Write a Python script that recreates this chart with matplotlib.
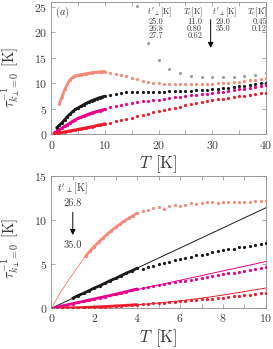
import numpy as np
import matplotlib
matplotlib.use("Agg")
import matplotlib.pyplot as plt
from matplotlib.ticker import MultipleLocator

plt.rcParams['font.family'] = 'serif'
plt.rcParams['font.serif'] = ['cmr10', 'DejaVu Serif']
plt.rcParams['mathtext.fontset'] = 'cm'
plt.rcParams['axes.formatter.use_mathtext'] = True

# ---- legend tables ----
tperp = ['25.0', '26.8', '27.7', '29.0', '35.0']
tc = ['11.0', '0.80', '0.62', '0.45', '0.12']

colors = {'25.0': '#a0a0a0', '26.8': '#f58a7a', '27.7': '#1a1a1a',
          '29.0': '#e8008a', '35.0': '#ee1c2a'}

# ---- panel (a): dense part, T < 10 ----
T_dense_salmon = [1.5, 2.0, 2.5, 3.0, 3.5, 4.0, 4.5, 5.0, 5.5, 6.0, 6.5, 7.0, 7.5,
                  8.0, 8.5, 9.0, 9.5, 10.0]
a_dense_salmon = [6.0, 7.4, 8.8, 9.9, 10.7, 11.2, 11.5, 11.6, 11.7, 11.8, 11.9,
                  12.0, 12.1, 12.15, 12.2, 12.25, 12.3, 12.3]
T_dense_black = [1.0, 1.5, 2.0, 2.5, 3.0, 3.5, 4.0, 4.5, 5.0, 5.5, 6.0, 6.5, 7.0,
                 7.5, 8.0, 8.5, 9.0, 9.5, 10.0]
a_dense_black = [1.3, 1.8, 2.3, 2.9, 3.5, 4.0, 4.5, 4.9, 5.2, 5.5, 5.8, 6.1, 6.35,
                 6.6, 6.8, 7.0, 7.2, 7.35, 7.5]
T_dense_low = [0.5, 1.0, 1.5, 2.0, 2.5, 3.0, 3.5, 4.0, 4.5, 5.0, 5.5, 6.0, 6.5,
               7.0, 7.5, 8.0, 8.5, 9.0, 9.5, 10.0]
a_dense_magenta = [0.3, 0.6, 0.9, 1.25, 1.6, 1.9, 2.25, 2.6, 2.9, 3.15, 3.4, 3.6,
                   3.8, 4.0, 4.2, 4.35, 4.5, 4.65, 4.8, 4.9]
a_dense_red = [0.1, 0.2, 0.3, 0.4, 0.5, 0.6, 0.7, 0.8, 0.9, 1.0, 1.1, 1.2, 1.3,
               1.4, 1.5, 1.6, 1.75, 1.85, 1.95, 2.1]

# ---- panel (a): sparse part, T = 11..40 ----
T_sparse = list(range(11, 41))
a_salmon = [12.1, 11.9, 11.7, 11.4, 11.1, 10.8, 10.5, 10.3, 10.1, 10.0, 9.9, 9.85,
            9.8, 9.8, 9.8, 9.8, 9.85, 9.85, 9.9, 9.95, 10.0, 10.05, 10.1, 10.2,
            10.3, 10.45, 10.6, 10.75, 10.9, 11.1]
a_black = [7.8, 8.0, 8.15, 8.25, 8.3, 8.35, 8.35, 8.4, 8.4, 8.4, 8.4, 8.45, 8.45,
           8.5, 8.5, 8.55, 8.6, 8.7, 8.75, 8.85, 8.95, 9.05, 9.15, 9.3, 9.4, 9.55,
           9.7, 9.85, 10.0, 10.15]
a_magenta = [5.3, 5.6, 5.8, 6.0, 6.15, 6.3, 6.45, 6.6, 6.7, 6.8, 6.95, 7.1, 7.25,
             7.4, 7.5, 7.65, 7.8, 7.9, 8.0, 8.1, 8.25, 8.4, 8.5, 8.65, 8.8, 8.95,
             9.1, 9.3, 9.45, 9.6]
a_red = [2.3, 2.55, 2.8, 3.05, 3.3, 3.55, 3.8, 4.05, 4.3, 4.55, 4.8, 5.0, 5.25,
         5.45, 5.7, 5.9, 6.1, 6.3, 6.5, 6.7, 6.85, 7.0, 7.15, 7.3, 7.45, 7.6,
         7.75, 7.9, 8.05, 8.2]
T_grey = [16, 18, 20, 22, 24, 26, 28, 30, 32, 34, 36, 38, 40]
a_grey = [25.2, 18.0, 14.5, 12.9, 12.0, 11.5, 11.3, 11.2, 11.2, 11.3, 11.4, 11.6, 12.0]

# ---- panel (b): thin lines ----
T_line_salmon = [0.0, 0.4, 0.8, 1.2, 1.6]
b_line_salmon = [0.0, 1.7, 3.2, 4.6, 5.9]
T_line = [0.0, 10.0]
b_line_black = [0.0, 11.4]
b_line_magenta = [0.0, 5.3]
T_line_red = [0, 1, 2, 3, 4, 5, 6, 7, 8, 9, 10]
b_line_red = [0.0, 0.05, 0.12, 0.25, 0.4, 0.6, 0.85, 1.15, 1.5, 1.9, 2.3]

# ---- panel (b): dense part, T < 4 ----
Tb_salmon = [1.6, 1.8, 2.0, 2.2, 2.4, 2.6, 2.8, 3.0, 3.2, 3.4, 3.6, 3.8, 4.0]
b_dense_salmon = [5.9, 6.5, 7.0, 7.5, 7.95, 8.4, 8.8, 9.2, 9.55, 9.9, 10.2, 10.5, 10.8]
Tb_black = [1.0, 1.25, 1.5, 1.75, 2.0, 2.25, 2.5, 2.75, 3.0, 3.25, 3.5, 3.75, 4.0]
b_dense_black = [1.15, 1.45, 1.7, 2.0, 2.3, 2.55, 2.85, 3.15, 3.4, 3.7, 4.0, 4.25, 4.55]
Tb_magenta = [0.25, 0.5, 0.75, 1.0, 1.25, 1.5, 1.75, 2.0, 2.25, 2.5, 2.75, 3.0,
              3.25, 3.5, 3.75, 4.0]
b_dense_magenta = [0.13, 0.27, 0.4, 0.53, 0.66, 0.8, 0.93, 1.06, 1.2, 1.33, 1.46,
                   1.6, 1.75, 1.9, 2.05, 2.2]
Tb_red = [0.5, 0.75, 1.0, 1.25, 1.5, 1.75, 2.0, 2.25, 2.5, 2.75, 3.0, 3.25, 3.5,
          3.75, 4.0]
b_dense_red = [0.02, 0.03, 0.05, 0.07, 0.09, 0.12, 0.14, 0.17, 0.2, 0.23, 0.27,
               0.3, 0.34, 0.38, 0.42]

# ---- panel (b): sparse part, T = 4.25..10 ----
Tb_sparse = [4.25, 4.5, 4.75, 5.0, 5.25, 5.5, 5.75, 6.0, 6.25, 6.5, 6.75, 7.0,
             7.25, 7.5, 7.75, 8.0, 8.25, 8.5, 8.75, 9.0, 9.25, 9.5, 9.75, 10.0]
b_salmon = [11.0, 11.2, 11.4, 11.5, 11.3, 11.6, 11.7, 11.6, 11.7, 11.9, 11.8, 11.9,
            12.0, 12.0, 11.9, 12.0, 12.0, 12.1, 12.0, 12.1, 12.1, 12.2, 12.2, 12.2]
b_black = [4.5, 4.7, 4.85, 5.0, 5.1, 5.3, 5.45, 5.6, 5.75, 5.85, 6.0, 6.1, 6.2,
           6.35, 6.5, 6.6, 6.7, 6.75, 6.9, 7.0, 7.05, 7.2, 7.3, 7.4]
b_magenta = [2.3, 2.4, 2.5, 2.6, 2.7, 2.85, 2.95, 3.05, 3.15, 3.25, 3.35, 3.45,
             3.55, 3.65, 3.75, 3.85, 3.95, 4.05, 4.15, 4.25, 4.35, 4.45, 4.6, 4.7]
b_red = [0.45, 0.5, 0.55, 0.6, 0.65, 0.7, 0.75, 0.8, 0.85, 0.9, 0.95, 1.0, 1.05,
         1.1, 1.15, 1.2, 1.3, 1.35, 1.4, 1.5, 1.55, 1.6, 1.7, 1.75]

ms = 2.3
ylab = r'$\tau^{-1}_{k_\perp\!=0}\;\,[\mathrm{K}]$'
xlab = r'$T\;\,[\mathrm{K}]$'
txtc = '#3a3a3a'


def style_axes(ax):
    for s in ax.spines.values():
        s.set_color('#8a8a8a')
        s.set_linewidth(0.6)
    ax.tick_params(which='both', direction='in', top=True, right=True,
                   color='#8a8a8a', width=0.5, labelcolor=txtc, labelsize=8.5, pad=3)
    ax.tick_params(which='major', length=3)
    ax.tick_params(which='minor', length=3)


def dense(ax, T, v, c):
    ax.plot(T, v, '-', color=c, lw=2.0, solid_capstyle='round', zorder=3)
    ax.plot(T, v, 'o', color=c, ms=ms, mew=0, zorder=3)


def sparse(ax, T, v, c):
    ax.plot(T, v, 'o', color=c, ms=ms, mew=0, zorder=3)


fig = plt.figure(figsize=(2.73, 3.49), dpi=100)
ax1 = fig.add_axes([0.188, 0.615, 0.786, 0.380])
ax2 = fig.add_axes([0.188, 0.1166, 0.786, 0.379])

# panel (a)
dense(ax1, T_dense_salmon, a_dense_salmon, colors['26.8'])
dense(ax1, T_dense_black, a_dense_black, colors['27.7'])
dense(ax1, T_dense_low, a_dense_magenta, colors['29.0'])
dense(ax1, T_dense_low, a_dense_red, colors['35.0'])
sparse(ax1, T_grey, a_grey, colors['25.0'])
sparse(ax1, T_sparse, a_salmon, colors['26.8'])
sparse(ax1, T_sparse, a_black, colors['27.7'])
sparse(ax1, T_sparse, a_magenta, colors['29.0'])
sparse(ax1, T_sparse, a_red, colors['35.0'])

ax1.set_xlim(0, 40)
ax1.set_ylim(0, 26)
ax1.xaxis.set_major_locator(MultipleLocator(10))
ax1.xaxis.set_minor_locator(MultipleLocator(5))
ax1.yaxis.set_major_locator(MultipleLocator(5))
style_axes(ax1)
ax1.set_xlabel(xlab, fontsize=12, color=txtc, labelpad=2)
ax1.set_ylabel(ylab, fontsize=10.5, color=txtc)
ax1.yaxis.set_label_coords(-0.132, 0.43)
ax1.text(0.015, 0.975, r'$(a)$', transform=ax1.transAxes, fontsize=7.5,
         va='top', ha='left', color=txtc)

# legend table in panel (a)
fs = 6.0
hy = 24.0
ax1.text(17.9, hy, r"$t'_\perp[\mathrm{K}]$", fontsize=fs, color=txtc, va='center')
ax1.text(28.2, hy, r"$T_c[\mathrm{K}]$", fontsize=fs, color=txtc, va='center', ha='right')
ax1.text(30.0, hy, r"$t'_\perp[\mathrm{K}]$", fontsize=fs, color=txtc, va='center')
ax1.text(40.3, hy, r"$T_c[\mathrm{K}]$", fontsize=fs, color=txtc, va='center', ha='right')
rows = [22.1, 20.75, 19.4]
for i in range(3):
    ax1.text(18.1, rows[i], tperp[i], fontsize=fs, color=txtc, va='center')
    ax1.text(28.1, rows[i], tc[i], fontsize=fs, color=txtc, va='center', ha='right')
for i in range(3, 5):
    ax1.text(30.6, rows[i - 3], tperp[i], fontsize=fs, color=txtc, va='center')
    ax1.text(40.2, rows[i - 3], tc[i], fontsize=fs, color=txtc, va='center', ha='right')
ax1.annotate('', xy=(29.7, 16.4), xytext=(29.7, 23.0),
             arrowprops=dict(arrowstyle='-|>', color='k', lw=0.7, mutation_scale=8))

# panel (b)
ax2.plot(T_line_salmon, b_line_salmon, '-', color=colors['26.8'], lw=0.7)
ax2.plot(T_line, b_line_black, '-', color=colors['27.7'], lw=0.7)
ax2.plot(T_line, b_line_magenta, '-', color=colors['29.0'], lw=0.7)
ax2.plot(T_line_red, b_line_red, '-', color=colors['35.0'], lw=0.7)
dense(ax2, Tb_salmon, b_dense_salmon, colors['26.8'])
dense(ax2, Tb_black, b_dense_black, colors['27.7'])
dense(ax2, Tb_magenta, b_dense_magenta, colors['29.0'])
dense(ax2, Tb_red, b_dense_red, colors['35.0'])
sparse(ax2, Tb_sparse, b_salmon, colors['26.8'])
sparse(ax2, Tb_sparse, b_black, colors['27.7'])
sparse(ax2, Tb_sparse, b_magenta, colors['29.0'])
sparse(ax2, Tb_sparse, b_red, colors['35.0'])

ax2.set_xlim(0, 10)
ax2.set_ylim(0, 15)
ax2.xaxis.set_major_locator(MultipleLocator(2))
ax2.xaxis.set_minor_locator(MultipleLocator(1))
ax2.yaxis.set_major_locator(MultipleLocator(5))
style_axes(ax2)
ax2.set_xlabel(xlab, fontsize=12, color=txtc, labelpad=2)
ax2.set_ylabel(ylab, fontsize=10.5, color=txtc)
ax2.yaxis.set_label_coords(-0.132, 0.45)

ax2.text(1.0, 13.6, r"$t'_\perp[\mathrm{K}]$", fontsize=7.5, color=txtc, ha='center', va='center')
ax2.text(1.0, 11.9, tperp[1], fontsize=7.5, color=txtc, ha='center', va='center')
ax2.text(1.0, 7.1, tperp[4], fontsize=7.5, color=txtc, ha='center', va='center')
ax2.annotate('', xy=(1.0, 8.0), xytext=(1.0, 11.2),
             arrowprops=dict(arrowstyle='-|>', color='k', lw=0.7, mutation_scale=8))

fig.savefig('out.png', dpi=100)
